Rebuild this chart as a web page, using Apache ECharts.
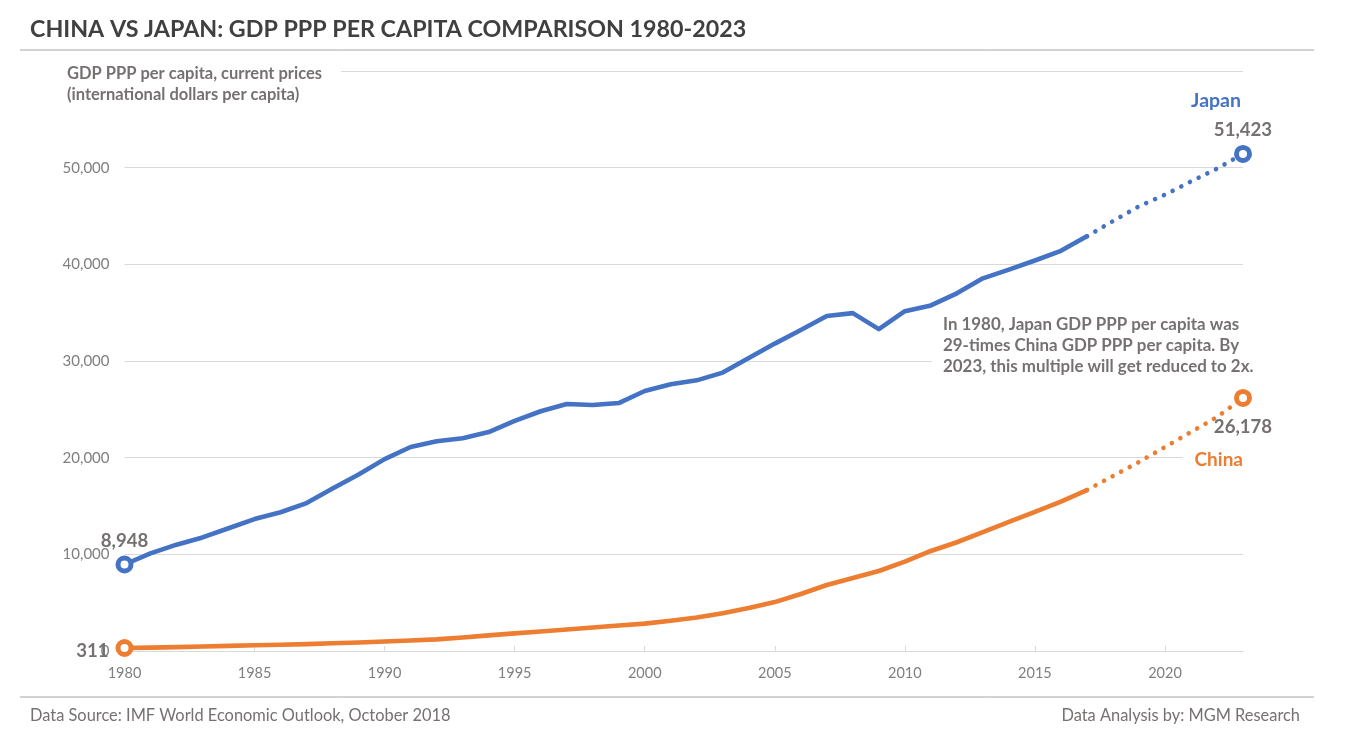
<!DOCTYPE html>
<html>
<head>
<meta charset="utf-8">
<title>China vs Japan GDP PPP per capita</title>
<script src="https://cdn.jsdelivr.net/npm/echarts@6/dist/echarts.min.js"></script>
<style>
html, body { margin: 0; padding: 0; background: #fff; }
#chart { width: 1349px; height: 743px; }
</style>
</head>
<body>
<div id="chart"></div>
<script>
var years = ['1980','1981','1982','1983','1984','1985','1986','1987','1988','1989',
	'1990','1991','1992','1993','1994','1995','1996','1997','1998','1999',
	'2000','2001','2002','2003','2004','2005','2006','2007','2008','2009',
	'2010','2011','2012','2013','2014','2015','2016','2017','2018','2019',
	'2020','2021','2022','2023'];
var yTicks = [0, 10000, 20000, 30000, 40000, 50000, 60000];
// values, 1980-2017 solid, 2017-2023 dotted
var japanActual = [8948,10100,11000,11750,12700,13650,14350,15300,16800,18250,
	19850,21100,21700,22000,22650,23800,24800,25550,25450,25650,
	26900,27600,28000,28800,30300,31800,33200,34650,34950,33300,
	35150,35750,37000,38550,39450,40400,41400,42900];
var japanForecast = [44470,46000,47200,48570,49900,51423];
var chinaActual = [311,350,400,460,530,590,640,710,800,880,
	980,1090,1200,1400,1620,1820,2020,2230,2430,2630,
	2830,3130,3460,3900,4440,5060,5900,6830,7550,8280,
	9240,10350,11250,12300,13350,14400,15450,16650];
var chinaForecast = [18100,19550,21100,22650,24200,26178];

var FONT = 'Lato';
var GREY = '#767171';
var BLUE = '#4472c4';
var ORANGE = '#ed7d31';

function fmt(v) {
	return String(v).replace(/\B(?=(\d{3})+$)/g, ',');
}

function marked(value, color, pos, offset) {
	return {
		value: value,
		symbol: 'circle',
		symbolSize: 13,
		itemStyle: { color: '#fff', borderColor: color, borderWidth: 5 },
		label: {
			show: true, position: pos, offset: offset,
			formatter: fmt(value),
			fontFamily: FONT, fontSize: 18.6, fontWeight: 'bold', color: GREY
		}
	};
}

// solid part stops at 2017, the rest of the years stay empty
function solidData(arr, color, pos, offset) {
	var out = [];
	for (var i = 0; i < arr.length; i++) {
		out.push(i == 0 ? marked(arr[i], color, pos, offset) : arr[i]);
	}
	return out;
}

// dotted part starts at the last solid value
function dottedData(actual, forecast, color, pos, offset) {
	var out = [];
	for (var i = 0; i < actual.length - 1; i++) {
		out.push(null);
	}
	out.push(actual[actual.length - 1]);
	for (var j = 0; j < forecast.length; j++) {
		out.push(j == forecast.length - 1 ? marked(forecast[j], color, pos, offset) : forecast[j]);
	}
	return out;
}

function lineSeries(name, data, color, dotted) {
	return {
		name: name,
		type: 'line',
		data: data,
		symbol: 'none',
		showAllSymbol: true,
		smooth: false,
		connectNulls: false,
		z: dotted ? 3 : 4,
		silent: true,
		lineStyle: dotted
			? { color: color, width: 4.6, type: [0.01, 9.7], cap: 'round' }
			: { color: color, width: 4.6, cap: 'round', join: 'round' }
	};
}

function text(x, y, str, size, weight, color, align) {
	return {
		type: 'text', x: x, y: y, z: 10, silent: true,
		style: {
			text: str, fontFamily: FONT, fontSize: size, fontWeight: weight,
			fill: color, align: align || 'left', verticalAlign: 'middle', lineHeight: 21
		}
	};
}

function cover(x, y, w, h) {
	return { type: 'rect', x: x, y: y, z: 1, silent: true, shape: { width: w, height: h }, style: { fill: '#fff' } };
}

function rule(y) {
	return {
		type: 'line', z: 1, silent: true,
		shape: { x1: 20, y1: y, x2: 1314, y2: y },
		style: { stroke: '#a6a6a6', lineWidth: 1 }
	};
}

var chart = echarts.init(document.getElementById('chart'));
chart.setOption({
	animation: false,
	backgroundColor: '#fff',
	grid: { left: 124.5, right: 106, top: 71, bottom: 92 },
	xAxis: {
		type: 'category',
		data: years,
		boundaryGap: false,
		axisLine: { lineStyle: { color: '#d9d9d9', width: 1 } },
		axisTick: { show: true, inside: true, length: 5, interval: 4, alignWithLabel: true, lineStyle: { color: '#d9d9d9' } },
		axisLabel: { interval: 4, margin: 15, fontFamily: FONT, fontSize: 14.5, color: '#7f7f7f' },
		splitLine: { show: false }
	},
	yAxis: {
		type: 'value',
		min: yTicks[0],
		max: yTicks[yTicks.length - 1],
		interval: yTicks[1] - yTicks[0],
		axisLine: { show: false },
		axisTick: { show: false },
		axisLabel: {
			margin: 15, fontFamily: FONT, fontSize: 15, color: '#7f7f7f',
			formatter: function (v) { return v == 60000 ? '' : fmt(v); }
		},
		splitLine: { lineStyle: { color: '#d9d9d9', width: 1 } }
	},
	series: [
		lineSeries('Japan', solidData(japanActual, BLUE, 'top', [0, 0]), BLUE, false),
		lineSeries('Japan forecast', dottedData(japanActual, japanForecast, BLUE, 'top', [0, 0]), BLUE, true),
		lineSeries('China', solidData(chinaActual, ORANGE, 'left', [-2, 3]), ORANGE, false),
		lineSeries('China forecast', dottedData(chinaActual, chinaForecast, ORANGE, 'bottom', [0, 6]), ORANGE, true)
	],
	graphic: { elements: [
		rule(50),
		rule(697),
		cover(60, 60, 281, 50),
		cover(932, 312, 340, 70),
		cover(1183, 445, 80, 30),
		text(30, 29, 'CHINA VS JAPAN: GDP PPP PER CAPITA COMPARISON 1980-2023', 23.25, 'bold', '#404040'),
		text(67, 84, 'GDP PPP per capita, current prices\n(international dollars per capita)', 16.5, 'bold', GREY),
		text(1241, 101, 'Japan', 19.5, 'bold', BLUE, 'right'),
		text(1243, 460, 'China', 19, 'bold', ORANGE, 'right'),
		text(943, 346, 'In 1980, Japan GDP PPP per capita was\n29-times China GDP PPP per capita. By\n2023, this multiple will get reduced to 2x.', 16.9, 'bold', GREY),
		text(30, 716, 'Data Source: IMF World Economic Outlook, October 2018', 16.4, 'normal', GREY),
		text(1300, 716, 'Data Analysis by: MGM Research', 16.4, 'normal', GREY, 'right')
	] }
});
</script>
</body>
</html>
